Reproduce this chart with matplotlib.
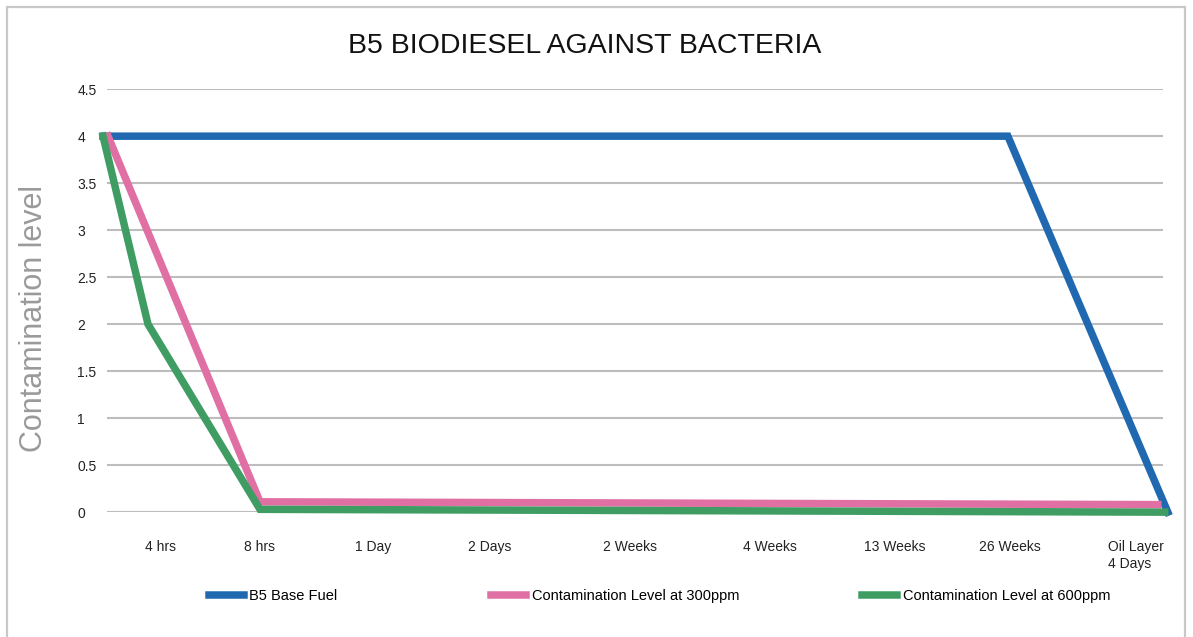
import matplotlib
matplotlib.use("Agg")
from matplotlib import pyplot as plt
from matplotlib.patches import Rectangle

plt.rcParams['font.family'] = ['Liberation Sans', 'DejaVu Sans']

# x positions (chart units) of the tick labels and of each series' points
tick_labels = ["4 hrs", "8 hrs", "1 Day", "2 Days", "2 Weeks", "4 Weeks",
               "13 Weeks", "26 Weeks", "Oil Layer\n4 Days"]
tick_pos = [0.57, 1.57, 2.70, 3.87, 5.27, 6.67, 7.92, 9.07, 10.05]

base_x = [0.0, 9.05, 10.65]
base_y = [4.0, 4.0, 0.0]

c300_x = [0.05, 1.57, 10.55]
c300_y = [4.0, 0.11, 0.08]

c600_x = [0.0, 0.45, 1.57, 10.62]
c600_y = [4.0, 2.0, 0.03, 0.0]

series = [
    ("B5 Base Fuel", base_x, base_y, "#2069b0"),
    ("Contamination Level at 300ppm", c300_x, c300_y, "#e06fa4"),
    ("Contamination Level at 600ppm", c600_x, c600_y, "#3f9d63"),
]
legend_x = [0.170, 0.407, 0.718]

fig = plt.figure(figsize=(11.93, 6.37), dpi=100)
ax = fig.add_axes([0.0897, 0.196, 0.885, 0.664])

fig.patches.append(Rectangle((7 / 1193, -0.01), 1178 / 1193, 1 - 7 / 637 + 0.01,
                             transform=fig.transFigure, fill=False,
                             edgecolor="#c8c8c8", linewidth=1.6))

ax.set_xlim(0.04, 10.60)
ax.set_ylim(0, 4.5)
ax.set_yticks([0, 0.5, 1, 1.5, 2, 2.5, 3, 3.5, 4, 4.5])
ax.set_yticklabels(["0", "0.5", "1", "1.5", "2", "2.5", "3", "3.5", "4", "4.5"],
                   ha="left")
ax.set_xticks(tick_pos)
ax.set_xticklabels(tick_labels, linespacing=1.3, va="top")
ax.get_xticklabels()[-1].set_ha("left")
ax.tick_params(axis="both", length=0, labelsize=10, colors="#222222")
ax.tick_params(axis="x", pad=20)
ax.tick_params(axis="y", pad=21.5)
ax.grid(axis="y", color="#bdbdbd", linewidth=1.5)
ax.set_axisbelow(True)
for sp in ax.spines.values():
    sp.set_visible(False)

handles = []
for name, xs, ys, col in series:
    h, = ax.plot(xs, ys, color=col, linewidth=5.4, clip_on=False,
                 solid_joinstyle="miter", label=name)
    handles.append(h)

for h, lx in zip(handles, legend_x):
    fig.legend(handles=[h], loc="center left", bbox_to_anchor=(lx, 0.064),
               frameon=False, fontsize=10.5, handlelength=2.4, handletextpad=0.4,
               borderaxespad=0)

fig.text(34 / 1193, 0.50, "Contamination level", rotation=90, ha="center",
         va="center", fontsize=22, color="#9a9a9a")
fig.text(0.49, 0.928, "B5 BIODIESEL AGAINST BACTERIA", ha="center", va="center",
         fontsize=20.5, color="#111111")

fig.savefig("out.png", dpi=100)
